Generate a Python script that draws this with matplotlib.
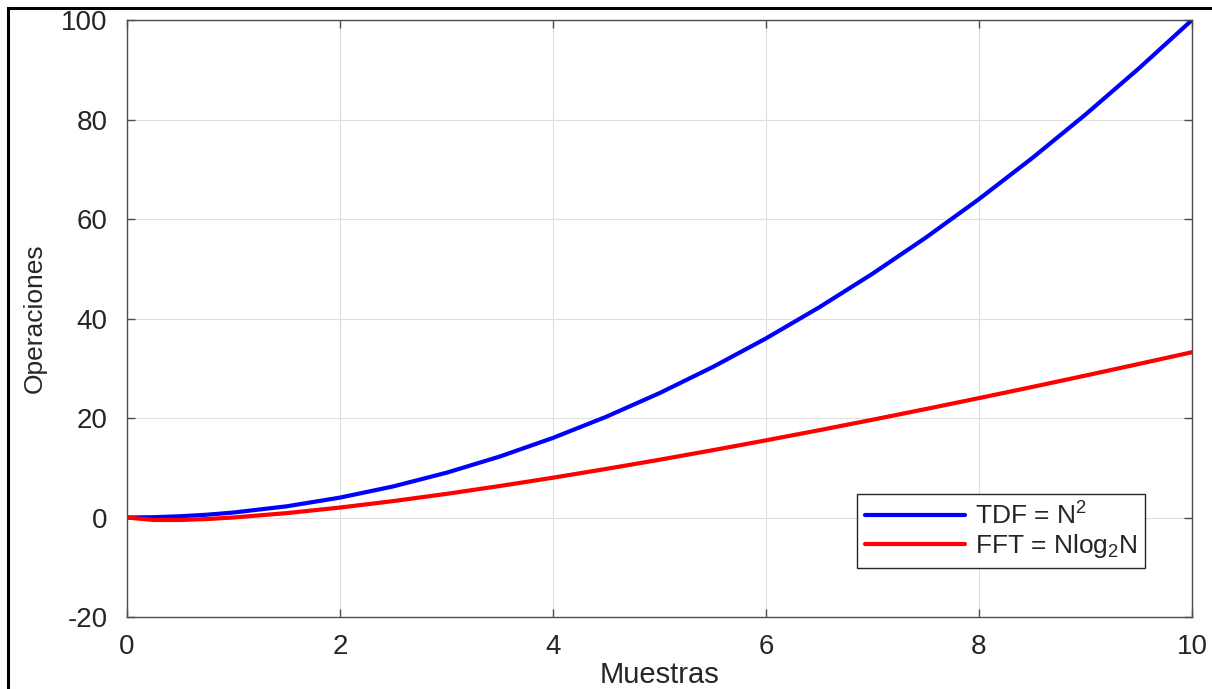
import matplotlib
matplotlib.use("Agg")
import matplotlib.pyplot as plt
from matplotlib.patches import Rectangle

plt.rcParams['font.family'] = ['Liberation Sans', 'DejaVu Sans']
plt.rcParams['mathtext.fontset'] = 'custom'
plt.rcParams['mathtext.rm'] = 'Liberation Sans'
plt.rcParams['mathtext.it'] = 'Liberation Sans'
plt.rcParams['axes.unicode_minus'] = False

# muestras N and operaciones
N = [0, 0.25, 0.5, 0.75, 1, 1.5, 2, 2.5, 3, 3.5, 4, 4.5, 5, 5.5,
     6, 6.5, 7, 7.5, 8, 8.5, 9, 9.5, 10]
tdf = [0, 0.06, 0.25, 0.56, 1, 2.25, 4, 6.25, 9, 12.25, 16, 20.25, 25, 30.25,
       36, 42.25, 49, 56.25, 64, 72.25, 81, 90.25, 100]
fft = [0, -0.5, -0.5, -0.31, 0, 0.88, 2, 3.3, 4.75, 6.33, 8, 9.77, 11.61, 13.53,
       15.51, 17.55, 19.65, 21.8, 24, 26.24, 28.53, 30.86, 33.22]

xticks = [0, 2, 4, 6, 8, 10]
yticks = [-20, 0, 20, 40, 60, 80, 100]

fig = plt.figure(figsize=(12.12, 6.89), dpi=100)
ax = fig.add_axes([127/1212, 1 - 617/689, (1192-127)/1212, (617-20)/689])

ax.plot(N, tdf, color='#0000ff', lw=3, label=r'TDF = N$^{2}$', solid_capstyle='round')
ax.plot(N, fft, color='#ff0000', lw=3, label=r'FFT = Nlog$_{2}$N', solid_capstyle='round')

ax.set_xlim(0, 10)
ax.set_ylim(-20, 100)
ax.set_xticks(xticks)
ax.set_yticks(yticks)
ax.grid(True, color='#dedede', lw=0.8)
ax.set_axisbelow(True)
for s in ax.spines.values():
    s.set_color('#4d4d4d')
    s.set_linewidth(1.0)
ax.tick_params(direction='in', length=6, width=1, color='#4d4d4d',
               labelsize=20, labelcolor='#262626', top=True, right=True)
ax.tick_params(axis='x', pad=12)
ax.tick_params(axis='y', pad=14)

ax.set_xlabel('Muestras', fontsize=21, color='#262626', labelpad=1)
ax.set_ylabel('Operaciones', fontsize=19, color='#262626', labelpad=10)

leg = ax.legend(loc='upper right', bbox_to_anchor=(0.956, 0.206), borderaxespad=0,
                fontsize=19, handlelength=3.8, fancybox=False, framealpha=1,
                edgecolor='#262626', borderpad=0.3, labelspacing=0.12, handletextpad=0.35)
leg.get_frame().set_linewidth(1.0)
for t in leg.get_texts():
    t.set_color('#262626')

# outer black frame (cropped on right and bottom)
fig.add_artist(Rectangle((8/1212, -0.5), 2, 0.5 + 681/689, transform=fig.transFigure,
                         fill=False, edgecolor='black', lw=2.2, clip_on=False))

fig.savefig('out.png', dpi=100)
